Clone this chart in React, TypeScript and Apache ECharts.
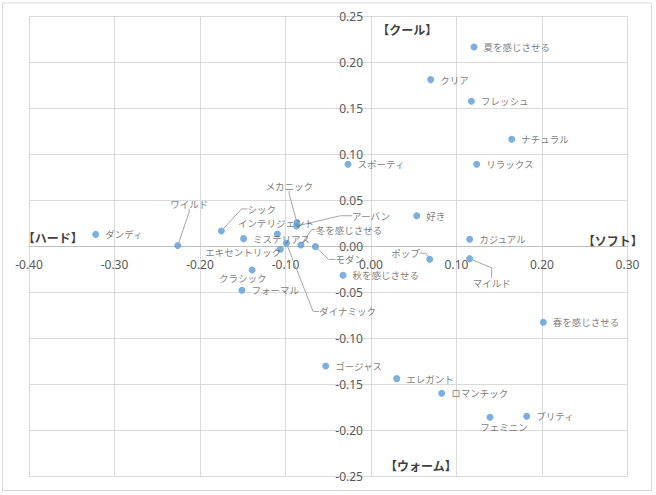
import React, { useEffect, useRef } from "react";
import * as echarts from "echarts";

// ---- data ----
const names = [
  "ダンディ", "ワイルド", "シック", "インテリジェント", "メカニック", "アーバン",
  "ミステリアス", "冬を感じさせる", "モダン", "エキセントリック", "ダイナミック",
  "クラシック", "フォーマル", "夏を感じさせる", "クリア", "フレッシュ", "ナチュラル",
  "スポーティ", "リラックス", "好き", "カジュアル", "ポップ", "マイルド",
  "秋を感じさせる", "春を感じさせる", "ゴージャス", "エレガント", "ロマンチック",
  "フェミニン", "プリティ",
];
const xValues = [
  -0.322, -0.226, -0.175, -0.1095, -0.0866, -0.087,
  -0.149, -0.082, -0.065, -0.106, -0.099,
  -0.139, -0.151, 0.1205, 0.0698, 0.1174, 0.1646,
  -0.0269, 0.1236, 0.0535, 0.1154, 0.0687, 0.1154,
  -0.0327, 0.2016, -0.053, 0.0301, 0.0827,
  0.1392, 0.1821,
];
const yValues = [
  0.013, 0.001, 0.0168, 0.0135, 0.0258, 0.0221,
  0.0084, 0.0015, -0.0003, -0.0032, 0.0034,
  -0.0257, -0.0478, 0.217, 0.1815, 0.158, 0.1166,
  0.0894, 0.0894, 0.0334, 0.0077, -0.014, -0.0134,
  -0.0315, -0.0826, -0.1302, -0.144, -0.16,
  -0.186, -0.185,
];
const quadrantLabels = ["【クール】", "【ソフト】", "【ハード】", "【ウォーム】"];

// ---- label placement (style / layout only) ----
type Placement = { dx: number; dy: number; line?: boolean; len?: number };
const labelPlacement: Record<string, Placement> = {
  "ワイルド": { dx: 11.5, dy: -41.3, line: true, len: 3 },
  "シック": { dx: 40.4, dy: -22, line: true, len: 6 },
  "インテリジェント": { dx: -1.4, dy: -11 },
  "メカニック": { dx: -7.8, dy: -36.7, line: true, len: 3 },
  "アーバン": { dx: 74.4, dy: -10.3, line: true, len: 12 },
  "冬を感じさせる": { dx: 48, dy: -15.3, line: true, len: 4 },
  "モダン": { dx: 34.3, dy: 12.8, line: true, len: 7 },
  "エキセントリック": { dx: -37, dy: 3 },
  "ダイナミック": { dx: 61.3, dy: 68.2, line: true, len: 6 },
  "クラシック": { dx: -9.4, dy: 8.3 },
  "ポップ": { dx: -24.2, dy: -6, line: true, len: 6 },
  "マイルド": { dx: 22, dy: 24, line: true, len: 10 },
  "フェミニン": { dx: 13.9, dy: 9.4 },
};
const quadrantPos: [number, number][] = [
  [407.3, 29.3],
  [612.8, 240],
  [52.8, 237.3],
  [420.8, 465],
];

const LABEL_FONT = "'Noto Sans CJK JP', 'Noto Sans', sans-serif";
const GRID = { left: 29, right: 28.5, top: 16.7, bottom: 19 };
const W = 656;
const H = 495;

export default function App() {
  const ref = useRef<HTMLDivElement>(null);
  useEffect(() => {
    document.body.style.margin = "0";
    if (!ref.current) return;
    const chart = echarts.init(ref.current, undefined, { renderer: "svg" });
    const data = names.map((n, i) => {
      const pl = labelPlacement[n];
      const item: any = { name: n, value: [xValues[i], yValues[i]] };
      if (pl && pl.line) {
        item.labelLine = { show: true, length2: pl.len ?? 5 };
      }
      return item;
    });
    chart.setOption({
      animation: false,
      backgroundColor: "#ffffff",
      grid: { ...GRID, containLabel: false, outerBoundsMode: "none" },
      xAxis: {
        type: "value",
        position: "bottom",
        min: -0.4,
        max: 0.3,
        interval: 0.1,
        axisLine: { onZero: false, lineStyle: { color: "#bfbfbf", width: 1 } },
        axisTick: { show: false },
        axisLabel: {
          color: "#595959",
          fontSize: 12,
          fontFamily: "'Noto Sans', sans-serif",
          margin: 12,
          formatter: (v: number) => v.toFixed(2),
        },
        splitLine: { show: true, lineStyle: { color: "#d9d9d9", width: 1 } },
      },
      yAxis: {
        type: "value",
        position: "left",
        min: -0.25,
        max: 0.25,
        interval: 0.05,
        axisLine: { onZero: false, lineStyle: { color: "#d9d9d9", width: 1 } },
        axisTick: { show: false },
        axisLabel: {
          color: "#595959",
          fontSize: 12,
          fontFamily: "'Noto Sans', sans-serif",
          margin: 8,
          formatter: (v: number) => v.toFixed(2),
        },
        splitLine: { show: true, lineStyle: { color: "#d9d9d9", width: 1 } },
      },
      series: [
        {
          type: "scatter",
          symbolSize: 7,
          itemStyle: { color: "#5b9bd5" },
          data,
          label: {
            show: true,
            position: "right",
            distance: 6,
            formatter: "{b}",
            color: "#595959",
            fontSize: 9.5,
            fontFamily: LABEL_FONT,
          },
          labelLine: { show: false, lineStyle: { color: "#a6a6a6", width: 1 } },
          labelLayout: (p: any) => {
            const pl = labelPlacement[names[p.dataIndex]];
            if (!pl) return {};
            const cx = p.rect.x + p.rect.width / 2;
            const cy = p.rect.y + p.rect.height / 2;
            return { x: cx + pl.dx, y: cy + pl.dy, align: "center", verticalAlign: "middle" };
          },
        },
      ],
      graphic: [
        {
          type: "rect",
          shape: { x: 2.5, y: 3, width: 649, height: 487.5 },
          style: { fill: "none", stroke: "#d9d9d9", lineWidth: 1 },
          z: -10,
          silent: true,
        },
        ...quadrantLabels.map((t, i) => ({
          type: "text",
          x: quadrantPos[i][0],
          y: quadrantPos[i][1],
          style: {
            text: t,
            fill: "#404040",
            font: `bold 12px ${LABEL_FONT}`,
            align: "center",
            verticalAlign: "middle",
          },
          z: 10,
        })),
      ],
    });
    // move both axes (line + labels) onto the zero crossing
    const origin = chart.convertToPixel({ gridIndex: 0 }, [0, 0]) as number[];
    if (origin && isFinite(origin[0]) && isFinite(origin[1])) {
      chart.setOption({
        xAxis: { offset: origin[1] - (H - GRID.bottom) },
        yAxis: { offset: GRID.left - origin[0] },
      });
    }
    return () => chart.dispose();
  }, []);
  return <div ref={ref} style={{ width: W, height: H }} />;
}
